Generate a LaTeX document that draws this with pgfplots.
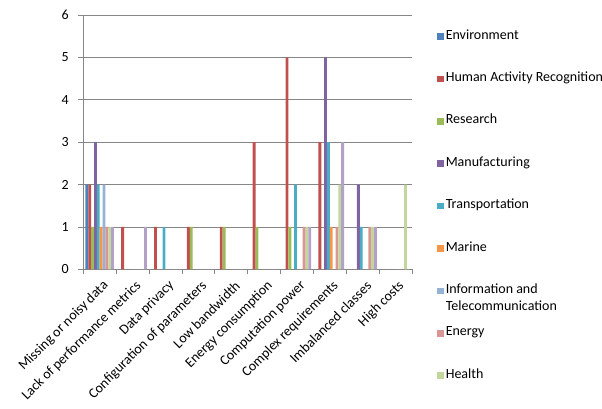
\documentclass[border=0pt]{standalone}
\usepackage{fontspec}
\setmainfont{Carlito}
\usepackage{pgfplots}
\pgfplotsset{compat=1.18}
\definecolor{cEnv}{HTML}{4F81BD}
\definecolor{cHar}{HTML}{C0504D}
\definecolor{cRes}{HTML}{9BBB59}
\definecolor{cMan}{HTML}{8064A2}
\definecolor{cTra}{HTML}{4BACC6}
\definecolor{cMar}{HTML}{F79646}
\definecolor{cInf}{HTML}{95B3D7}
\definecolor{cEne}{HTML}{D99694}
\definecolor{cHea}{HTML}{C3D69B}
\definecolor{cLav}{HTML}{B3A2C7}
\definecolor{gridgray}{HTML}{868686}
\newcommand{\lblfont}{\fontsize{14bp}{16.7bp}\selectfont}
\begin{document}
\begin{tikzpicture}
\useasboundingbox (0,0) rectangle (602bp,409bp);
\begin{axis}[
  at={(83.3bp,139.7bp)}, anchor=south west,
  scale only axis, width=328.7bp, height=254.3bp,
  xmin=-0.5, xmax=9.5, ymin=0, ymax=6,
  ybar=0pt, bar width=2.85bp,
  axis lines*=left,
  axis line style={gridgray, line width=0.8bp},
  tick style={gridgray, line width=0.8bp},
  tick align=outside,
  major tick length=5bp, minor tick length=5bp,
  ytick={0,...,6},
  ymajorgrids, grid style={gridgray, line width=0.8bp},
  xtick={0,...,9},
  major x tick style={draw=none},
  minor xtick={-0.5,0.5,...,9.5},
  xticklabels={Missing or noisy data, Lack of performance metrics, Data privacy, Configuration of parameters, Low bandwidth, Energy consumption, Computation power, Complex requirements, Imbalanced classes, High costs},
  xticklabel style={rotate=45, anchor=east, font=\lblfont, text=black, inner sep=1bp, yshift=-11bp, xshift=-1bp},
  yticklabel style={font=\lblfont, text=black, xshift=-6bp},
  /pgf/number format/assume math mode=true,
  legend style={draw=none, fill=none, at={(1.076,0.9418)}, anchor=north west,
    inner sep=0pt, row sep=29.4bp, column sep=1bp,
    nodes={inner sep=1bp, text height=8bp, text depth=3bp, anchor=west},
    font=\lblfont},
  legend cell align=left,
  legend image code/.code={\fill[#1] (0bp,-3.3bp) rectangle (6.6bp,3.3bp);},
]
% categories 0..9
\addplot[fill=cEnv, draw=none] coordinates {(0,2) (1,0) (2,0) (3,0) (4,0) (5,0) (6,0) (7,0) (8,0) (9,0)};
\addplot[fill=cHar, draw=none] coordinates {(0,2) (1,1) (2,1) (3,1) (4,1) (5,3) (6,5) (7,3) (8,0) (9,0)};
\addplot[fill=cRes, draw=none] coordinates {(0,1) (1,0) (2,0) (3,1) (4,1) (5,1) (6,1) (7,0) (8,0) (9,0)};
\addplot[fill=cMan, draw=none] coordinates {(0,3) (1,0) (2,0) (3,0) (4,0) (5,0) (6,0) (7,5) (8,2) (9,0)};
\addplot[fill=cTra, draw=none] coordinates {(0,2) (1,0) (2,1) (3,0) (4,0) (5,0) (6,2) (7,3) (8,1) (9,0)};
\addplot[fill=cMar, draw=none] coordinates {(0,1) (1,0) (2,0) (3,0) (4,0) (5,0) (6,0) (7,1) (8,0) (9,0)};
\addplot[fill=cInf, draw=none] coordinates {(0,2) (1,0) (2,0) (3,0) (4,0) (5,0) (6,0) (7,0) (8,0) (9,0)};
\addplot[fill=cEne, draw=none] coordinates {(0,1) (1,0) (2,0) (3,0) (4,0) (5,0) (6,1) (7,1) (8,1) (9,0)};
\addplot[fill=cHea, draw=none] coordinates {(0,1) (1,0) (2,0) (3,0) (4,0) (5,0) (6,1) (7,2) (8,1) (9,2)};
\addplot[fill=cLav, draw=none] coordinates {(0,1) (1,1) (2,0) (3,0) (4,0) (5,0) (6,1) (7,3) (8,1) (9,0)};
\legend{Environment, Human Activity Recognition, Research, Manufacturing, Transportation, Marine, \parbox[t]{140bp}{Information and\\Telecommunication}, Energy, Health}
\end{axis}
\end{tikzpicture}
\end{document}
